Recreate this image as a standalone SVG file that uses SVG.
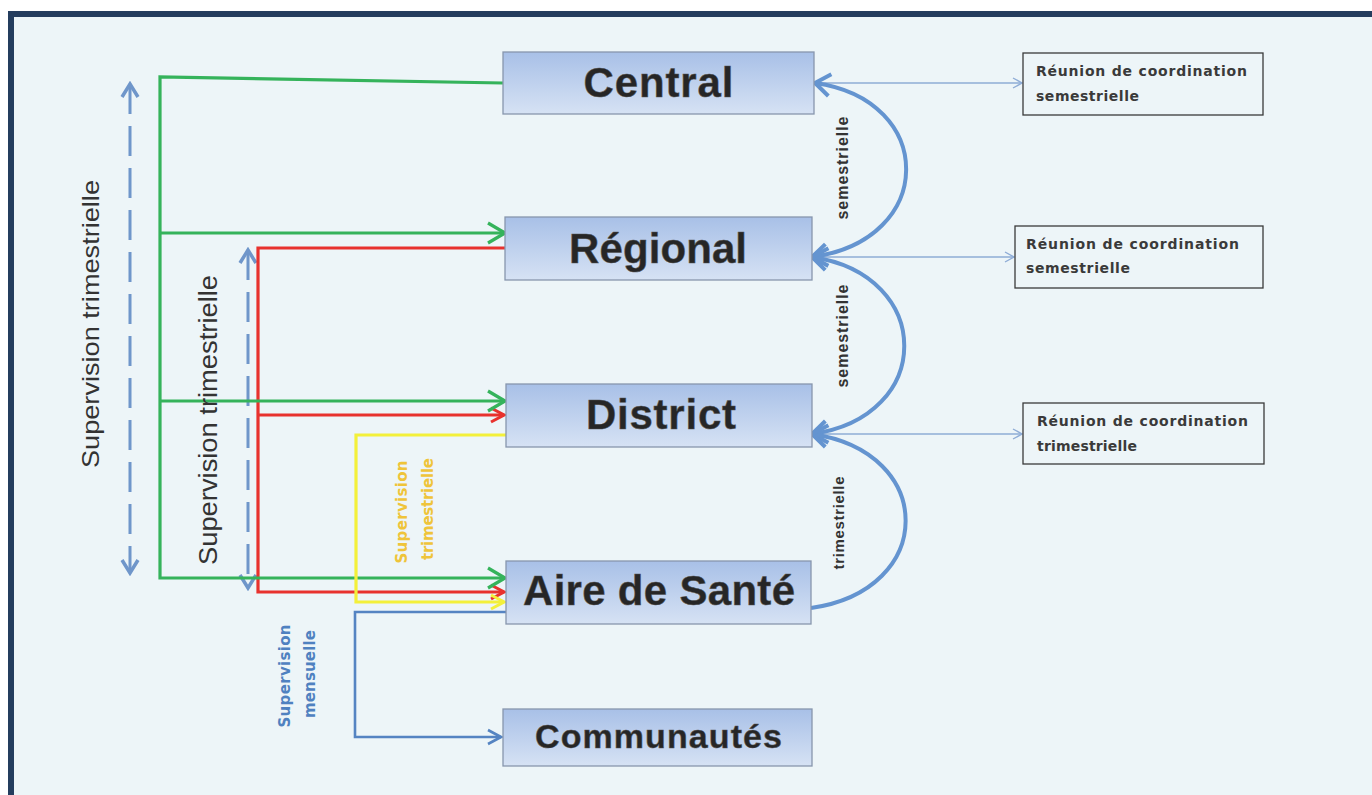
<svg xmlns="http://www.w3.org/2000/svg" width="1372" height="795" viewBox="0 0 1372 795">
<style>
.node rect{fill:url(#nodeGrad);stroke:#8796ad;stroke-width:1.3}
.node text{font-family:"Liberation Sans",Arial,sans-serif;font-weight:bold;fill:#262626;text-anchor:middle;stroke:#555;stroke-width:0.5}
.meet rect{fill:none;stroke:#3a3a3a;stroke-width:1.3}
.meet text{font-family:"DejaVu Sans","Liberation Sans",sans-serif;font-weight:bold;font-size:14px;fill:#3a3a3a}
.conn{fill:none}
.green{stroke:#35b35b;stroke-width:3.2}
.red{stroke:#e8322e;stroke-width:3.2}
.yellow{stroke:#f3f03a;stroke-width:3.2}
.blue{stroke:#5584c2;stroke-width:2.6}
.thin{stroke:#8eacd6;stroke-width:1.4}
.arc{stroke:#6494d0;stroke-width:4}
.dash{stroke:#6f96ca;stroke-width:3;stroke-dasharray:30 12}
.lbl{font-family:"Liberation Sans",Arial,sans-serif;text-anchor:middle}
.lbl2{font-family:"DejaVu Sans","Liberation Sans",sans-serif;font-weight:bold;font-size:15px;text-anchor:middle}
</style>
<defs>
<linearGradient id="nodeGrad" x1="0" y1="0" x2="0" y2="1">
<stop offset="0" stop-color="#a8c0e7"/>
<stop offset="1" stop-color="#d6e2f4"/>
</linearGradient>
<marker id="ahGreen" markerUnits="userSpaceOnUse" markerWidth="22" markerHeight="26" viewBox="0 0 22 26" refX="20" refY="13" orient="auto"><path d="M3,3 L20,13 L3,23" fill="none" stroke="#35b35b" stroke-width="3.2"/></marker>
<marker id="ahRed" markerUnits="userSpaceOnUse" markerWidth="18" markerHeight="20" viewBox="0 0 18 20" refX="16" refY="10" orient="auto"><path d="M3,3 L16,10 L3,17" fill="none" stroke="#e8322e" stroke-width="3"/></marker>
<marker id="ahYellow" markerUnits="userSpaceOnUse" markerWidth="18" markerHeight="20" viewBox="0 0 18 20" refX="16" refY="10" orient="auto"><path d="M3,3 L16,10 L3,17" fill="none" stroke="#f3f03a" stroke-width="3"/></marker>
<marker id="ahBlue" markerUnits="userSpaceOnUse" markerWidth="18" markerHeight="20" viewBox="0 0 18 20" refX="16" refY="10" orient="auto"><path d="M3,3 L16,10 L3,17" fill="none" stroke="#5584c2" stroke-width="2.6"/></marker>
<marker id="ahThin" markerUnits="userSpaceOnUse" markerWidth="12" markerHeight="14" viewBox="0 0 12 14" refX="11" refY="7" orient="auto"><path d="M2,2 L11,7 L2,12" fill="none" stroke="#8eacd6" stroke-width="1.4"/></marker>
<marker id="ahArc" markerUnits="userSpaceOnUse" markerWidth="22" markerHeight="28" viewBox="0 0 22 28" refX="19" refY="14" orient="auto-start-reverse"><path d="M4,3 L19,14 L4,25" fill="none" stroke="#6494d0" stroke-width="4"/></marker>
<marker id="ahDash" markerUnits="userSpaceOnUse" markerWidth="20" markerHeight="22" viewBox="0 0 20 22" refX="17" refY="11" orient="auto-start-reverse"><path d="M4,3 L17,11 L4,19" fill="none" stroke="#6f96ca" stroke-width="3.5"/></marker>
</defs>

<rect x="0" y="0" width="1372" height="795" fill="#ffffff"/>
<rect x="8" y="11" width="1372" height="800" fill="#243d5e"/>
<rect x="14" y="17" width="1372" height="800" fill="#edf5f8"/>

<g id="connectors">
<path class="conn dash" d="M130,84 L130,573" marker-start="url(#ahDash)" marker-end="url(#ahDash)"/>
<path class="conn dash" d="M248,250 L248,588" marker-start="url(#ahDash)" marker-end="url(#ahDash)"/>
<path class="conn red" d="M505,248 L258,248 L258,592 L504,592" marker-end="url(#ahRed)"/>
<path class="conn red" d="M258,415 L504,415" marker-end="url(#ahRed)"/>
<path class="conn green" d="M503,83 L160,77 L160,578 L505,578" marker-end="url(#ahGreen)"/>
<path class="conn green" d="M160,233 L505,233" marker-end="url(#ahGreen)"/>
<path class="conn green" d="M160,401 L505,401" marker-end="url(#ahGreen)"/>
<path class="conn yellow" d="M506,435 L356,435 L356,602 L504,602" marker-end="url(#ahYellow)"/>
<path class="conn blue" d="M506,612 L355,612 L355,737 L501,737" marker-end="url(#ahBlue)"/>
<path class="conn thin" d="M814,83 L1022,83" marker-end="url(#ahThin)"/>
<path class="conn thin" d="M812,257 L1014,257" marker-end="url(#ahThin)"/>
<path class="conn thin" d="M812,434 L1022,434" marker-end="url(#ahThin)"/>
<path class="conn arc" d="M815,83 C937,100 937,240 812,257" marker-start="url(#ahArc)" marker-end="url(#ahArc)"/>
<path class="conn arc" d="M812,257 C935,275 935,417 812,434" marker-start="url(#ahArc)" marker-end="url(#ahArc)"/>
<path class="conn arc" d="M812,434 C937,452 937,590 811,608" marker-start="url(#ahArc)"/>
</g>

<g id="labels">
<text class="lbl" transform="translate(99,324) rotate(-90)" font-size="24" fill="#333" textLength="288" lengthAdjust="spacingAndGlyphs">Supervision trimestrielle</text>
<text class="lbl" transform="translate(217,420) rotate(-90)" font-size="25" fill="#333" textLength="290" lengthAdjust="spacingAndGlyphs">Supervision trimestrielle</text>
<text class="lbl2" transform="translate(407,512) rotate(-90)" fill="#efc43a" textLength="103">Supervision</text>
<text class="lbl2" transform="translate(433,509) rotate(-90)" fill="#efc43a" textLength="102">trimestrielle</text>
<text class="lbl2" transform="translate(290,676) rotate(-90)" fill="#4f81c0" textLength="103">Supervision</text>
<text class="lbl2" transform="translate(315,674) rotate(-90)" fill="#4f81c0" textLength="88">mensuelle</text>
<text class="lbl" transform="translate(848,168) rotate(-90)" font-size="16" font-weight="bold" fill="#333" textLength="103">semestrielle</text>
<text class="lbl" transform="translate(848,336) rotate(-90)" font-size="16" font-weight="bold" fill="#333" textLength="103">semestrielle</text>
<text class="lbl" transform="translate(844,523) rotate(-90)" font-size="15" font-weight="bold" fill="#333" textLength="93">trimestrielle</text>
</g>

<g id="central" class="node"><rect x="503" y="52" width="311" height="62"/><text x="658.5" y="97" font-size="42" textLength="150">Central</text></g>
<g id="regional" class="node"><rect x="505" y="217" width="307" height="63"/><text x="658" y="263" font-size="42" textLength="178">Régional</text></g>
<g id="district" class="node"><rect x="506" y="384" width="306" height="63"/><text x="661" y="429" font-size="42" textLength="150">District</text></g>
<g id="aire" class="node"><rect x="506" y="561" width="305" height="63"/><text x="659" y="605" font-size="42" textLength="272">Aire de Santé</text></g>
<g id="communautes" class="node"><rect x="503" y="709" width="309" height="57"/><text x="658.5" y="748" font-size="34" textLength="247">Communautés</text></g>

<g id="reunion1" class="meet"><rect x="1023" y="53" width="240" height="62"/><text x="1036" y="76" textLength="211">Réunion de coordination</text><text x="1036" y="101" textLength="103">semestrielle</text></g>
<g id="reunion2" class="meet"><rect x="1015" y="226" width="248" height="62"/><text x="1026" y="249" textLength="213">Réunion de coordination</text><text x="1026" y="273" textLength="104">semestrielle</text></g>
<g id="reunion3" class="meet"><rect x="1023" y="403" width="241" height="61"/><text x="1037" y="426" textLength="211">Réunion de coordination</text><text x="1037" y="451" textLength="100">trimestrielle</text></g>
</svg>
